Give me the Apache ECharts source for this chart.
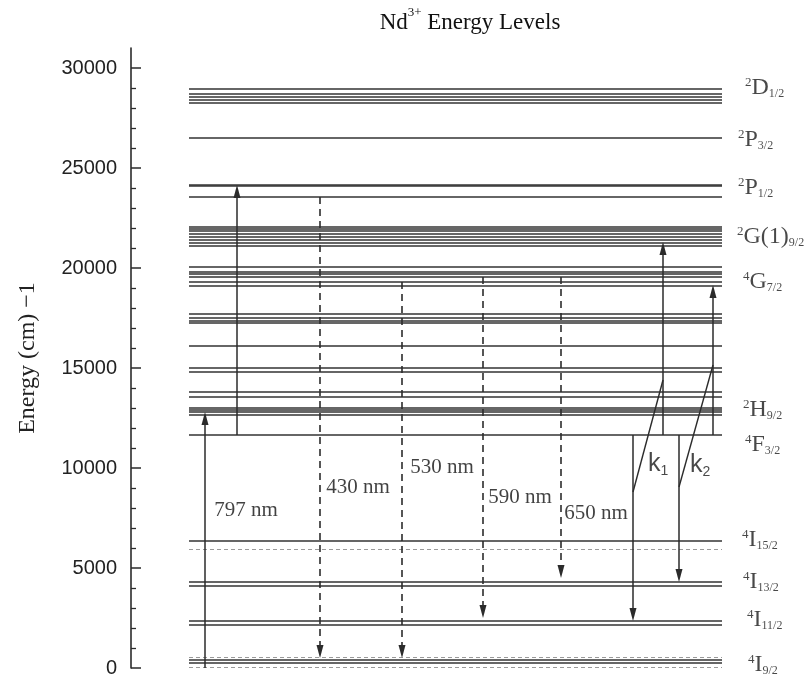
<!DOCTYPE html>
<html><head><meta charset="utf-8">
<script src="https://cdn.jsdelivr.net/npm/echarts@6/dist/echarts.min.js"></script>
<style>html,body{margin:0;padding:0;background:#fff}#c{width:805px;height:687px}</style>
</head><body><div id="c"></div>
<script>
// ---------- DATA (energies in cm^-1) ----------
const yMajorTicks = [0, 5000, 10000, 15000, 20000, 25000, 30000];
const yMinorTicks = [1000,2000,3000,4000,6000,7000,8000,9000,11000,12000,13000,14000,
  16000,17000,18000,19000,21000,22000,23000,24000,26000,27000,28000,29000];

// crystal-field sub-levels (solid lines)
const levelEnergies = [
  28950, 28700, 28550, 28400, 28250,          // 2D1/2 group
  26500,                                      // 2P3/2
  24170, 24100, 23550,                        // 2P1/2
  22050, 21950, 21850, 21700, 21550, 21400, 21250, 21100, // 2G(1)9/2 group
  20050, 19820, 19700, 19550, 19300, 19100,   // 4G7/2 group
  17700, 17500, 17380, 17250,                 // 4G5/2 group
  16100,
  15000, 14800,
  13800, 13550,
  13000, 12900, 12800, 12650,                 // 2H9/2 group
  11650,                                      // 4F3/2
  6350,                                       // 4I15/2
  4300, 4100,                                 // 4I13/2
  2350, 2150,                                 // 4I11/2
  400, 250                                    // 4I9/2
];
// faint (dashed) sub-levels
const faintLevelEnergies = [5950, 550, 30];

// level labels
const termSup  = ['2','2','2','2','4','2','4','4','4','4','4'];
const termMain = ['D','P','P','G(1)','G','H','F','I','I','I','I'];
const termSub  = ['1/2','3/2','1/2','9/2','7/2','9/2','3/2','15/2','13/2','11/2','9/2'];
const termLabelE = [29000, 26400, 24000, 21550, 19300, 12900, 11150, 6400, 4300, 2400, 150];

// solid arrows (pump 797 nm, upconversion, k1/k2 pair transitions)
const arrowFrom = [0, 11650, 11650, 11650, 11650, 11650];
const arrowTo   = [12800, 24150, 21300, 19150, 2350, 4300];

// dashed emission arrows
const emissionNames = ['430 nm', '530 nm', '590 nm', '650 nm'];
const emissionFrom  = [23550, 19300, 19550, 19550];
const emissionTo    = [500, 500, 2500, 4500];

// slanted coupling lines k1, k2
const coupleNames = ['k1', 'k2'];
const coupleFrom  = [8800, 9050];
const coupleTo    = [14400, 15150];

// annotation text
const pumpName = '797 nm';

// ---------- LAYOUT ----------
const AX = 131;                // pixel x of the energy axis
const X = px => px - AX;       // horizontal layout helper (x axis is a hidden pixel ruler)
const LEVEL_X0 = X(189), LEVEL_X1 = X(722);
const arrowX = [X(205), X(237), X(663), X(713), X(633), X(679)];
const emissionX = [X(320), X(402), X(483), X(561)];
const coupleX = [[X(633), X(663)], [X(679), X(713)]];
const termLabelX = [X(745), X(738), X(738), X(737), X(743), X(743), X(745), X(742), X(743), X(747), X(748)];
const emissionLabelPos = [[X(358), 9050], [X(442), 10050], [X(520), 8550], [X(596), 7750]];
const pumpLabelPos = [X(246), 7900];
const coupleLabelPos = [[X(648), 10150], [X(690), 10100]];

const Y_MAX = 31000, GRID_TOP = 48, GRID_BOTTOM = 19;
const cmPerPx = Y_MAX / (687 - GRID_TOP - GRID_BOTTOM);
const HEAD = 13; // arrow head length px
function shorten(from, to) { // line ends at the arrowhead centre so the tip touches the level
  const s = Math.sign(to - from);
  return to - s * (HEAD / 2) * cmPerPx;
}

const serif = 'Liberation Serif';
const sans = 'Liberation Sans';
const ink = '#2b2b2b';

const levelData = levelEnergies.map(e => ({ coords: [[LEVEL_X0, e], [LEVEL_X1, e]] }));
const faintData = faintLevelEnergies.map(e => ({ coords: [[LEVEL_X0, e], [LEVEL_X1, e]] }));
const arrowData = arrowFrom.map((f, i) => ({ coords: [[arrowX[i], f], [arrowX[i], shorten(f, arrowTo[i])]] }));
const emissionData = emissionFrom.map((f, i) => ({ coords: [[emissionX[i], f], [emissionX[i], shorten(f, emissionTo[i])]] }));
const coupleData = coupleFrom.map((f, i) => ({ coords: [[coupleX[i][0], f], [coupleX[i][1], coupleTo[i]]] }));

const termRich = {
  sup: { fontFamily: serif, fontSize: 13, color: '#1a1a1a', verticalAlign: 'top', lineHeight: 13 },
  m: { fontFamily: serif, fontSize: 24, color: '#1a1a1a', verticalAlign: 'middle', lineHeight: 24 },
  sub: { fontFamily: serif, fontSize: 12, color: '#1a1a1a', verticalAlign: 'bottom', lineHeight: 12 }
};

const option = {
  backgroundColor: '#ffffff',
  animation: false,
  grid: { left: AX, right: 0, top: GRID_TOP, bottom: GRID_BOTTOM, containLabel: false },
  xAxis: { type: 'value', min: 0, max: 805 - AX, show: false },
  yAxis: [
    {
      type: 'value', min: 0, max: Y_MAX, position: 'left',
      axisLine: { show: true, lineStyle: { color: ink, width: 1.6 } },
      axisTick: { show: true, inside: true, length: 10, customValues: yMajorTicks, lineStyle: { color: ink, width: 1.5 } },
      axisLabel: { show: true, customValues: yMajorTicks, margin: 14, color: '#222', fontFamily: sans, fontSize: 20,
        formatter: v => String(v) },
      splitLine: { show: false },
      name: 'Energy (cm) \u22121', nameLocation: 'middle', nameGap: 91, nameRotate: 90,
      nameTextStyle: { fontFamily: serif, fontSize: 24, color: '#222' }
    },
    {
      type: 'value', min: 0, max: Y_MAX, position: 'left', offset: 0,
      axisLine: { show: false },
      axisTick: { show: true, inside: true, length: 5, customValues: yMinorTicks, lineStyle: { color: ink, width: 1.3 } },
      axisLabel: { show: false },
      splitLine: { show: false }
    }
  ],
  graphic: [{
    type: 'text', x: 470, y: 6,
    style: {
      text: '{m|Nd}{s|3+}{m| Energy Levels}',
      align: 'center', verticalAlign: 'top',
      rich: {
        m: { fontFamily: serif, fontSize: 23, fill: '#111', verticalAlign: 'bottom', lineHeight: 28 },
        s: { fontFamily: serif, fontSize: 13, fill: '#111', verticalAlign: 'top', lineHeight: 13 }
      }
    }
  }],
  series: [
    { type: 'lines', coordinateSystem: 'cartesian2d', silent: true, symbol: 'none', z: 2,
      lineStyle: { color: '#333333', width: 1.6, opacity: 1 }, data: levelData },
    { type: 'lines', coordinateSystem: 'cartesian2d', silent: true, symbol: 'none', z: 2,
      lineStyle: { color: '#9a9a9a', width: 1.2, opacity: 1, type: [4, 3] }, data: faintData },
    { type: 'lines', coordinateSystem: 'cartesian2d', silent: true, z: 3,
      symbol: ['none', 'triangle'], symbolSize: [[7, HEAD], [7, HEAD]],
      lineStyle: { color: ink, width: 1.5, opacity: 1 }, data: arrowData },
    { type: 'lines', coordinateSystem: 'cartesian2d', silent: true, z: 3,
      symbol: ['none', 'triangle'], symbolSize: [[7, HEAD], [7, HEAD]],
      lineStyle: { color: ink, width: 1.6, opacity: 1, type: [7, 5] }, data: emissionData },
    { type: 'lines', coordinateSystem: 'cartesian2d', silent: true, symbol: 'none', z: 3,
      lineStyle: { color: ink, width: 1.4, opacity: 1 }, data: coupleData },
    // level term labels
    { type: 'scatter', symbolSize: 0, silent: true, z: 5, clip: false,
      data: termLabelE.map((e, i) => ({ value: [termLabelX[i], e] })),
      label: { show: true, position: 'right', distance: 0,
        formatter: p => '{sup|' + termSup[p.dataIndex] + '}{m|' + termMain[p.dataIndex] + '}{sub|' + termSub[p.dataIndex] + '}',
        rich: termRich } },
    // wavelength labels
    { type: 'scatter', symbolSize: 0, silent: true, z: 5, clip: false,
      data: emissionLabelPos.map((p, i) => ({ value: p, name: emissionNames[i] })).concat([{ value: pumpLabelPos, name: pumpName }]),
      label: { show: true, position: 'inside', formatter: p => p.name,
        fontFamily: serif, fontSize: 21, color: '#111' } },
    // k1 k2 labels
    { type: 'scatter', symbolSize: 0, silent: true, z: 5, clip: false,
      data: coupleLabelPos.map((p, i) => ({ value: p, name: coupleNames[i] })),
      label: { show: true, position: 'right', distance: 0,
        formatter: p => '{k|' + p.name.charAt(0) + '}{n|' + p.name.slice(1) + '}',
        rich: {
          k: { fontFamily: sans, fontSize: 25, color: '#1a1a1a', verticalAlign: 'top', lineHeight: 26 },
          n: { fontFamily: sans, fontSize: 14, color: '#1a1a1a', verticalAlign: 'bottom', lineHeight: 14 }
        } } }
  ]
};
const chart = echarts.init(document.getElementById('c'), null, { renderer: 'canvas' });
chart.setOption(option);
</script></body></html>
